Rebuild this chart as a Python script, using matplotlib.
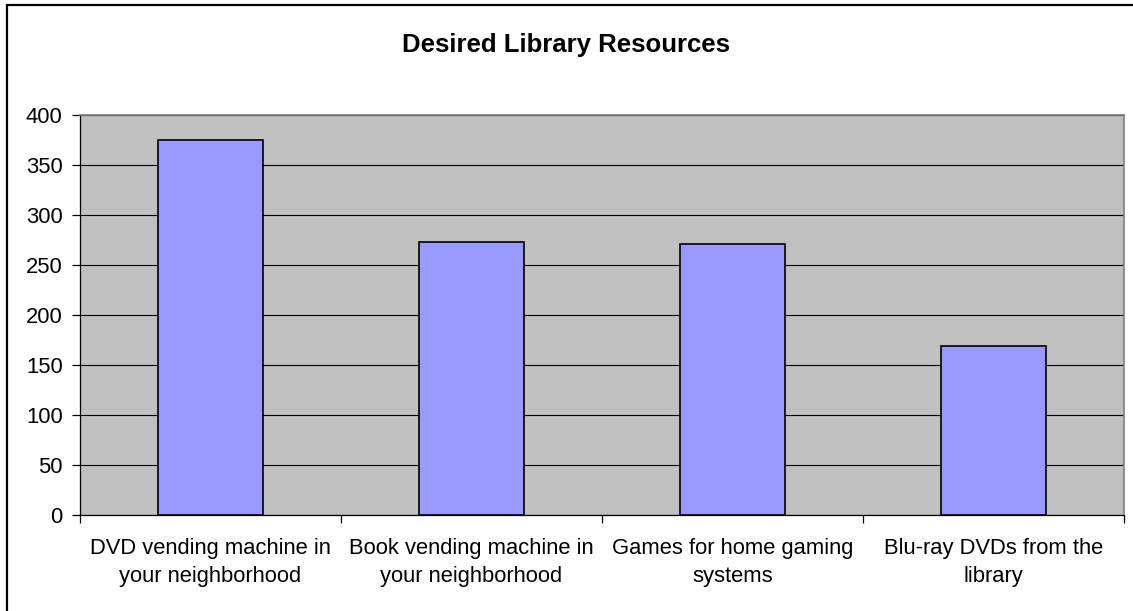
import matplotlib
matplotlib.use("Agg")
import matplotlib.pyplot as plt
from matplotlib.patches import Rectangle

categories = ["DVD vending machine in\nyour neighborhood",
              "Book vending machine in\nyour neighborhood",
              "Games for home gaming\nsystems",
              "Blu-ray DVDs from the\nlibrary"]
values = [375, 273, 271, 169]
yticks = [0, 50, 100, 150, 200, 250, 300, 350, 400]
title = "Desired Library Resources"

plt.rcParams['font.family'] = ['Liberation Sans', 'DejaVu Sans']

W, H = 1133, 611
fig = plt.figure(figsize=(W/100, H/100), dpi=100)
fig.patch.set_facecolor('white')

# outer chart border
fig.patches.append(Rectangle((7/W, -0.05), 1.2, 1 - 5/H + 0.05, transform=fig.transFigure,
                             fill=False, edgecolor='black', linewidth=1.6, zorder=0))

ax = fig.add_axes([80/W, (H-515.3)/H, 1044/W, 400/H])
ax.set_facecolor('#C0C0C0')
x = list(range(len(categories)))
ax.bar(x, values, width=0.406, color='#9999FF', edgecolor='black', linewidth=1.2, zorder=3)

ax.set_xlim(-0.5, len(categories) - 0.5)
ax.set_ylim(0, 400)
ax.set_yticks(yticks)
ax.set_yticklabels([str(v) for v in yticks], fontsize=15.8)
ax.yaxis.grid(True, color='black', linewidth=0.8, zorder=1)
ax.set_axisbelow(True)

ax.set_xticks(x)
ax.set_xticklabels(categories, fontsize=15.8, linespacing=1.48)
ax.tick_params(axis='x', which='major', length=0, pad=16)
ax.set_xticks([i - 0.5 for i in range(len(categories) + 1)], minor=True)
ax.tick_params(axis='x', which='minor', length=6, width=0.9, direction='out', color='black')
ax.tick_params(axis='y', length=5.5, width=0.9, direction='out', pad=7, color='black')

for s in ['top', 'right']:
    ax.spines[s].set_color('#808080')
    ax.spines[s].set_linewidth(1.2)
for s in ['left', 'bottom']:
    ax.spines[s].set_color('black')
    ax.spines[s].set_linewidth(0.9)

fig.text(0.5, 1 - 45/H, title, ha='center', va='center', fontsize=18.5, fontweight='bold')

fig.savefig("out.png", dpi=100)
